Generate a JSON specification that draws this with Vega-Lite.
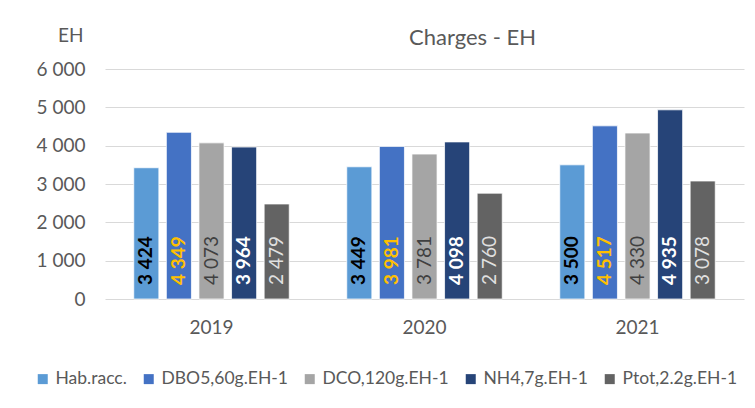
{
  "$schema": "https://vega.github.io/schema/vega-lite/v6.json",
  "width": 639,
  "height": 230,
  "autosize": {"type": "none"},
  "padding": {"left": 105, "top": 69, "right": 11, "bottom": 109},
  "background": "white",
  "config": {
    "font": "Lato",
    "view": {"stroke": null}
  },
  "title": {"text": "Charges - EH", "fontSize": 22, "fontWeight": "normal", "color": "#595959", "dx": 48, "offset": -24, "anchor": "middle"},
  "data": {
    "values": [
      {"year": "2019", "series": "Hab.racc.", "value": 3424},
      {"year": "2019", "series": "DBO5,60g.EH-1", "value": 4349},
      {"year": "2019", "series": "DCO,120g.EH-1", "value": 4073},
      {"year": "2019", "series": "NH4,7g.EH-1", "value": 3964},
      {"year": "2019", "series": "Ptot,2.2g.EH-1", "value": 2479},
      {"year": "2020", "series": "Hab.racc.", "value": 3449},
      {"year": "2020", "series": "DBO5,60g.EH-1", "value": 3981},
      {"year": "2020", "series": "DCO,120g.EH-1", "value": 3781},
      {"year": "2020", "series": "NH4,7g.EH-1", "value": 4098},
      {"year": "2020", "series": "Ptot,2.2g.EH-1", "value": 2760},
      {"year": "2021", "series": "Hab.racc.", "value": 3500},
      {"year": "2021", "series": "DBO5,60g.EH-1", "value": 4517},
      {"year": "2021", "series": "DCO,120g.EH-1", "value": 4330},
      {"year": "2021", "series": "NH4,7g.EH-1", "value": 4935},
      {"year": "2021", "series": "Ptot,2.2g.EH-1", "value": 3078}
    ]
  },
  "transform": [{"calculate": "replace(format(datum.value, ',d'), ',', ' ')", "as": "label"}],
  "encoding": {
    "x": {
      "field": "year", "type": "nominal",
      "scale": {"paddingInner": 0.27, "paddingOuter": 0.135},
      "axis": {"title": null, "labelAngle": 0, "labelFontSize": 19, "labelColor": "#595959", "labelPadding": 19, "ticks": false, "domain": false}
    },
    "xOffset": {
      "field": "series", "type": "nominal",
      "sort": ["Hab.racc.", "DBO5,60g.EH-1", "DCO,120g.EH-1", "NH4,7g.EH-1", "Ptot,2.2g.EH-1"],
      "scale": {"paddingInner": 0.23, "paddingOuter": 0}
    }
  },
  "layer": [
    {
      "mark": {"type": "bar", "stroke": "white", "strokeWidth": 0.75},
      "encoding": {
        "y": {
          "field": "value", "type": "quantitative",
          "scale": {"domain": [0, 6000], "nice": false},
          "axis": {
            "title": "EH", "titleAngle": 0, "titleAlign": "right", "titleBaseline": "alphabetic",
            "titleX": -22, "titleY": -28, "titleFontSize": 19, "titleFontWeight": "normal", "titleColor": "#595959",
            "labelFontSize": 19, "labelColor": "#595959", "labelPadding": 20,
            "domain": false, "ticks": false, "gridColor": "#d9d9d9", "gridWidth": 1.2,
            "values": [0, 1000, 2000, 3000, 4000, 5000, 6000],
            "labelExpr": "replace(format(datum.value, ',d'), ',', ' ')"
          }
        },
        "color": {
          "field": "series", "type": "nominal",
          "scale": {
            "domain": ["Hab.racc.", "DBO5,60g.EH-1", "DCO,120g.EH-1", "NH4,7g.EH-1", "Ptot,2.2g.EH-1"],
            "range": ["#5B9BD5", "#4472C4", "#A5A5A5", "#264478", "#636363"]
          },
          "legend": {
            "orient": "none", "legendX": -71, "legendY": 301, "direction": "horizontal", "title": null,
            "symbolType": "square", "symbolSize": 100, "symbolStrokeWidth": 0,
            "labelFontSize": 17.5, "labelColor": "#595959", "columnPadding": 13, "labelOffset": 4
          }
        }
      }
    },
    {
      "transform": [{"filter": {"field": "series", "oneOf": ["Hab.racc.", "DBO5,60g.EH-1", "NH4,7g.EH-1"]}}],
      "mark": {"type": "text", "angle": 270, "align": "left", "baseline": "middle", "dx": 14, "fontSize": 19, "fontWeight": "bold"},
      "encoding": {
        "y": {"datum": 0, "type": "quantitative", "scale": {"domain": [0, 6000], "nice": false}, "axis": null},
        "text": {"field": "label", "type": "nominal"},
        "color": {
          "field": "series", "type": "nominal",
          "scale": {"domain": ["Hab.racc.", "DBO5,60g.EH-1", "NH4,7g.EH-1"], "range": ["#000000", "#FFC000", "#FFFFFF"]},
          "legend": null
        }
      }
    },
    {
      "transform": [{"filter": {"field": "series", "oneOf": ["DCO,120g.EH-1", "Ptot,2.2g.EH-1"]}}],
      "mark": {"type": "text", "angle": 270, "align": "left", "baseline": "middle", "dx": 14, "fontSize": 19, "fontWeight": "normal"},
      "encoding": {
        "y": {"datum": 0, "type": "quantitative", "scale": {"domain": [0, 6000], "nice": false}, "axis": null},
        "text": {"field": "label", "type": "nominal"},
        "color": {
          "field": "series", "type": "nominal",
          "scale": {"domain": ["DCO,120g.EH-1", "Ptot,2.2g.EH-1"], "range": ["#404040", "#E0E0E0"]},
          "legend": null
        }
      }
    }
  ],
  "resolve": {"scale": {"color": "independent", "y": "independent"}, "axis": {"y": "independent"}}
}
